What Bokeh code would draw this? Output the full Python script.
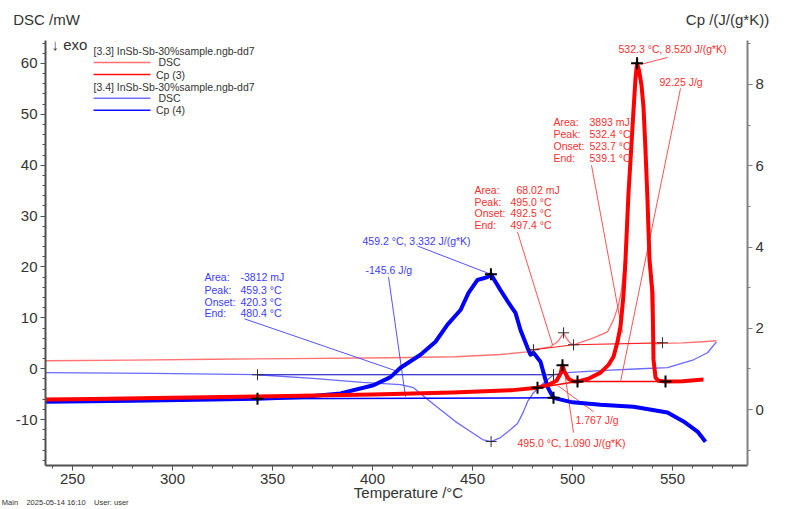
from bokeh.plotting import figure
from bokeh.models import (Range1d, LinearAxis, SingleIntervalTicker, FixedTicker, Label,
                          PrintfTickFormatter)
from bokeh.embed import file_html
from bokeh.resources import INLINE

# ---------------- data ----------------
# [3.3] DSC (mW, left axis)
temp_dsc3 = [236.5, 280, 320, 360, 409, 441.5, 464, 477.5, 480.5, 489, 492.5, 495.0, 495.5,
             497.5, 499, 500.5, 510.5, 517.5, 520.5, 523, 524.5, 526, 527.5, 529, 530.5, 531.5,
             532.3, 533.3, 534.5, 535.5, 536.5, 537.5, 538.5, 539.5, 540.5, 541.5, 545, 555,
             565, 572]
dsc3 = [1.57, 1.70, 1.86, 2.00, 2.16, 2.35, 2.80, 3.33, 3.73, 4.31, 5.29, 6.67, 7.06,
        5.69, 5.0, 4.71, 6.08, 7.25, 9.6, 12.5, 15.5, 21.0, 31.8, 40.6, 50.4, 56.3,
        59.2, 58.2, 55.3, 51.0, 42.5, 32.7, 21.0, 11.2, 5.7, 4.9, 5.0, 5.1,
        5.3, 5.5]

# Cp (3) (J/(g*K), right axis)
temp_cp3 = [236.5, 260, 300, 350, 400, 440, 470, 482.5, 488, 492, 494, 495.0, 496, 498,
            500, 502.5, 508, 514, 518, 520.5, 522.5, 524, 525.5, 526.5, 528, 529, 530.5,
            531.5, 532.3, 533.3, 534.5, 535.5, 536.5, 537.5, 538.5, 540, 540.5, 541.5, 543,
            546.5, 555, 565.5]
cp3 = [0.25, 0.26, 0.29, 0.33, 0.37, 0.42, 0.48, 0.54, 0.61, 0.71, 0.88, 1.09, 0.93, 0.76,
       0.70, 0.69, 0.76, 0.91, 1.10, 1.30, 1.67, 2.04, 2.82, 3.68, 5.33, 6.13, 7.36,
       8.15, 8.52, 8.34, 7.98, 7.44, 6.38, 5.15, 3.68, 2.87, 1.23, 0.79, 0.71,
       0.69, 0.70, 0.74]

# [3.4] DSC (mW, left axis)
temp_dsc4 = [236.5, 290, 342.5, 370, 395, 414, 420.5, 426.5, 434, 441.5, 449, 455, 459.3,
             464, 469, 472.5, 475.5, 477.5, 480.5, 484, 487.5, 490.5, 497.5, 514, 534, 547.5,
             560.5, 567.5, 572]
dsc4 = [-0.78, -0.90, -1.18, -1.9, -2.7, -3.14, -3.73, -5.69, -8.04, -10.39, -12.35, -13.92,
        -14.31, -13.53, -11.96, -10.78, -8.43, -6.47, -4.71, -3.33, -2.16, -1.18, -0.78,
        -0.39, 0.0, 0.2, 1.76, 3.14, 5.29]

# Cp (4) (J/(g*K), right axis)
temp_cp4 = [236.5, 280, 320, 342.5, 365, 384, 400.5, 409, 414, 424, 431.5, 437.5, 444, 448,
            452.5, 457.5, 459.2, 464, 468, 471.5, 474, 477.5, 479, 480.5, 484, 485.5, 487.5,
            489, 490.5, 500, 514, 530.5, 547.5, 555.5, 562.5, 566.5]
cp4 = [0.196, 0.22, 0.25, 0.27, 0.31, 0.40, 0.60, 0.80, 1.03, 1.35, 1.67, 2.09, 2.45, 2.87,
       3.19, 3.26, 3.332, 2.94, 2.63, 2.38, 1.96, 1.52, 1.35, 1.40, 1.18, 0.91, 0.56,
       0.42, 0.29, 0.18, 0.12, 0.07, -0.07, -0.29, -0.54, -0.79]

# evaluation points (integration limits and peaks)
dsc4_lim_t = [342.5, 490.5]
dsc4_lim_v = [-1.18, -1.18]
dsc4_peak = (459.3, -14.31)
cp4_lim_t = [342.5, 490.5]
cp4_lim_v = [0.27, 0.29]
cp4_peak = (459.2, 3.332)
dsc3_lim_t = [480.5, 500.5, 545.0]
dsc3_lim_v = [3.73, 4.71, 5.1]
dsc3_peak = (495.5, 7.06)
cp3_lim_t = [482.5, 502.5, 546.5]
cp3_lim_v = [0.54, 0.69, 0.69]
cp3_peaks_t = [495.0, 532.3]
cp3_peaks_v = [1.090, 8.520]

x_ticks_interval = 50
FONT = "Liberation Sans"
TXT = "#333333"

# ---------------- helpers: reference pixel -> data (layout only) ----------------
def tx(px):
    return 250 + (px - 72) / 2.0

def my(py):
    return (369 - py) / 5.1

p = figure(width=787, height=509,
           x_range=Range1d(236.5, 587.5), y_range=Range1d(-19.02, 64.51),
           output_backend="svg", toolbar_location=None,
           min_border_left=45, min_border_right=40, min_border_top=40, min_border_bottom=43)
p.extra_y_ranges = {"cp": Range1d(-1.374, 9.08)}
p.grid.visible = False
p.outline_line_color = None
p.background_fill_color = "white"
p.border_fill_color = "white"

# axes
p.xaxis.ticker = SingleIntervalTicker(interval=x_ticks_interval, num_minor_ticks=5)
p.yaxis.ticker = SingleIntervalTicker(interval=10, num_minor_ticks=5)
rax = LinearAxis(y_range_name="cp", ticker=SingleIntervalTicker(interval=2, num_minor_ticks=2))
p.add_layout(rax, "right")
for ax in [p.xaxis[0], p.yaxis[0], rax]:
    ax.formatter = PrintfTickFormatter(format="%d")
    ax.axis_line_color = "#505050"
    ax.axis_line_width = 2
    ax.major_tick_line_color = "#505050"
    ax.minor_tick_line_color = "#505050"
    ax.major_tick_out = 5
    ax.major_tick_in = 0
    ax.minor_tick_out = 3
    ax.minor_tick_in = 0
    ax.major_label_text_font = FONT
    ax.major_label_text_font_size = "15px"
    ax.major_label_text_color = TXT
    ax.major_label_standoff = 3
rax.axis_line_color = "#808080"
rax.major_tick_line_color = "#808080"
rax.minor_tick_line_color = "#808080"


def text_axis(place, ticks, texts, size, standoff):
    ax = LinearAxis(ticker=FixedTicker(ticks=ticks, minor_ticks=[]),
                    major_label_overrides={t: s for t, s in zip(ticks, texts)})
    ax.axis_line_color = None
    ax.major_tick_line_color = None
    ax.minor_tick_line_color = None
    ax.major_tick_out = 0
    ax.major_tick_in = 0
    ax.major_label_text_font = FONT
    ax.major_label_text_font_size = size
    ax.major_label_text_color = TXT
    ax.major_label_standoff = standoff
    p.add_layout(ax, place)
    return ax

# axis titles as label rows outside the frame
text_axis("above", [tx(46), tx(727)], ["DSC /mW", "Cp /(J/(g*K))"], "15px", 13)
text_axis("below", [tx(408)], ["Temperature /°C"], "15px", -3)
text_axis("below", [tx(62)], ["Main\u00a0\u00a0\u00a0 2025-05-14 16:10\u00a0\u00a0\u00a0 User: user"],
          "7.5px", -6)

RED = "#ff0000"
RED_T = "#ff4040"
BLUE = "#0000ff"
BLUE_T = "#4040ff"

# thin DSC curves
p.line(temp_dsc3, dsc3, line_color="#ff5a5a", line_width=1.3, line_alpha=0.85, line_join="round")
p.line(temp_dsc4, dsc4, line_color="#5a5aff", line_width=1.3, line_alpha=0.9, line_join="round")

# baselines
p.line(dsc4_lim_t, dsc4_lim_v, line_color="#0000c0", line_width=1.2)
p.line(cp4_lim_t, cp4_lim_v, line_color="#0000ff", line_width=1.5, y_range_name="cp")
p.line(dsc3_lim_t, dsc3_lim_v, line_color="#ff2020", line_width=1.2)
p.line(cp3_lim_t, cp3_lim_v, line_color="#ff0000", line_width=1.5, y_range_name="cp")

# leader lines (reference pixel positions)
red_leaders = [((640, 64), (667, 57)), ((680, 88), (620, 382)), ((591, 165), (622, 333)),
               ((517, 232), (552, 345)), ((556, 385), (593, 412)), ((563, 365), (573, 433))]
blue_leaders = [((417, 246), (492, 275)), ((388, 277), (405, 397)), ((244, 319), (398, 372))]
p.segment(x0=[tx(a[0]) for a, b in red_leaders], y0=[my(a[1]) for a, b in red_leaders],
          x1=[tx(b[0]) for a, b in red_leaders], y1=[my(b[1]) for a, b in red_leaders],
          line_color=RED_T, line_width=0.9)
p.segment(x0=[tx(a[0]) for a, b in blue_leaders], y0=[my(a[1]) for a, b in blue_leaders],
          x1=[tx(b[0]) for a, b in blue_leaders], y1=[my(b[1]) for a, b in blue_leaders],
          line_color=BLUE_T, line_width=0.9)

# thick Cp curves
p.line(temp_cp4, cp4, line_color=BLUE, line_width=4, line_join="round", y_range_name="cp")
p.line(temp_cp3, cp3, line_color=RED, line_width=4, line_join="round", y_range_name="cp")

# markers
p.scatter(dsc4_lim_t + [dsc4_peak[0]], dsc4_lim_v + [dsc4_peak[1]], marker="cross", size=11,
          line_color="#303030", line_width=1)
p.scatter(dsc3_lim_t + [dsc3_peak[0]], dsc3_lim_v + [dsc3_peak[1]], marker="cross", size=11,
          line_color="#303030", line_width=1)
p.scatter(cp4_lim_t + [cp4_peak[0]], cp4_lim_v + [cp4_peak[1]], marker="cross", size=12,
          line_color="black", line_width=2, y_range_name="cp")
p.scatter(cp3_lim_t + cp3_peaks_t, cp3_lim_v + cp3_peaks_v, marker="cross", size=12,
          line_color="black", line_width=2, y_range_name="cp")

def lab(px, py, text, color, size="10.5px", align="left"):
    p.add_layout(Label(x=tx(px), y=my(py), text=text, text_font=FONT, text_font_size=size,
                       text_color=color, text_baseline="middle", text_align=align))

TR = "#ff3030"
TB = "#3c3cff"
# red annotations
lab(618, 49, "532.3 °C, 8.520 J/(g*K)", TR)
lab(659, 82, "92.25 J/g", TR)
for yy, k, v in [(122, "Area:", "3893 mJ"), (134, "Peak:", "532.4 °C"),
                 (146, "Onset:", "523.7 °C"), (158, "End:", "539.1 °C")]:
    lab(553, yy, k, TR)
    lab(589, yy, v, TR)
for yy, k, v, vx in [(190, "Area:", "68.02 mJ", 516), (202, "Peak:", "495.0 °C", 510),
                     (213, "Onset:", "492.5 °C", 510), (225, "End:", "497.4 °C", 510)]:
    lab(474, yy, k, TR)
    lab(vx, yy, v, TR)
lab(575, 420, "1.767 J/g", TR)
lab(517, 443, "495.0 °C, 1.090 J/(g*K)", TR)
# blue annotations
lab(362, 241, "459.2 °C, 3.332 J/(g*K)", TB)
lab(365, 270, "-145.6 J/g", TB)
for yy, k, v in [(277, "Area:", "-3812 mJ"), (290, "Peak:", "459.3 °C"),
                 (302, "Onset:", "420.3 °C"), (313, "End:", "480.4 °C")]:
    lab(204, yy, k, TB)
    lab(240, yy, v, TB)

# legend
leg_rows = [(62, "#ff7070", 1.5), (74, "#ff1010", 1.5), (98, "#7070ff", 1.5), (110, "#1010ff", 1.5)]
for yy, c, w in leg_rows:
    p.segment(x0=[tx(93)], y0=[my(yy)], x1=[tx(150)], y1=[my(yy)], line_color=c, line_width=w)
lab(93, 51, "[3.3] InSb-Sb-30%sample.ngb-dd7", TXT)
lab(169, 62, "DSC", TXT, align="center")
lab(170, 75, "Cp (3)", TXT, align="center")
lab(93, 87, "[3.4] InSb-Sb-30%sample.ngb-dd7", TXT)
lab(169, 98, "DSC", TXT, align="center")
lab(170, 110, "Cp (4)", TXT, align="center")

# exo marker (kept just inside the frame)
lab(51, 44, "↓ exo", TXT, size="15px")

open("out.html", "w").write(file_html(p, INLINE))
